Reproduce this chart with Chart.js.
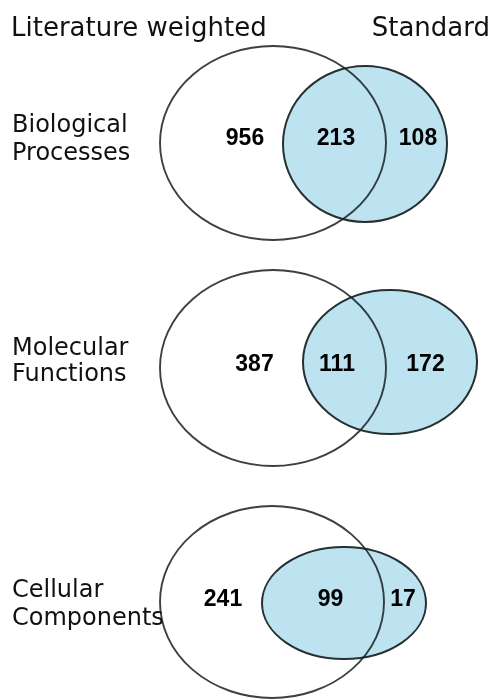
<!DOCTYPE html>
<html>
<head>
<meta charset="utf-8">
<script src="https://cdn.jsdelivr.net/npm/chart.js@4"></script>
<style>
  html, body { margin: 0; padding: 0; background: #fff; }
  canvas { display: block; }
</style>
</head>
<body>
<canvas id="venn" width="491" height="699"></canvas>
<script>
// set names (column headers) and GO categories (row labels)
var seriesNames = ["Literature weighted", "Standard"];
var categories = [["Biological", "Processes"], ["Molecular", "Functions"], ["Cellular", "Components"]];

// counts per region of each venn
var onlyLiterature = [956, 387, 241];
var inBoth = [213, 111, 99];
var onlyStandard = [108, 172, 17];

// layout of each venn in scale units (x 0..491, y 0..699)
var litEllipse = [
	{cx: 273, cy: 143, rx: 113, ry: 97},
	{cx: 273, cy: 368, rx: 113, ry: 98},
	{cx: 272, cy: 602, rx: 112, ry: 96}
];
var stdEllipse = [
	{cx: 365, cy: 144, rx: 82, ry: 78},
	{cx: 390, cy: 362, rx: 87, ry: 72},
	{cx: 344, cy: 603, rx: 82, ry: 56}
];
var countX = [[245, 336, 418], [254.5, 337, 425.5], [223, 330.5, 403]];
var countY = [145, 371, 606];   // baselines
var catY = [[131.5, 160], [355, 381], [596.5, 625]];
var headerY = 36;

var headerFont = "26px 'DejaVu Sans'";
var labelFont = "24px 'DejaVu Sans'";
var countFont = "bold 23px 'Liberation Sans'";

function buildPoints(values, col){
	var pts = [];
	for (var i = 0; i < values.length; i++) {
		pts.push({x: countX[i][col], y: countY[i], v: values[i]});
	};
	return pts;
};

var vennPlugin = {
	id: "venn",
	beforeDatasetsDraw: function(chart){
		var ctx = chart.ctx;
		var xs = chart.scales.x;
		var ys = chart.scales.y;
		function ell(e){
			var cx = xs.getPixelForValue(e.cx);
			var cy = ys.getPixelForValue(e.cy);
			var rx = Math.abs(xs.getPixelForValue(e.cx + e.rx) - cx);
			var ry = Math.abs(ys.getPixelForValue(e.cy + e.ry) - cy);
			ctx.beginPath();
			ctx.ellipse(cx, cy, rx, ry, 0, 0, Math.PI * 2);
		};
		ctx.save();
		for (var i = 0; i < categories.length; i++) {
			// standard set, filled blue
			ell(stdEllipse[i]);
			ctx.fillStyle = "#bde3f0";
			ctx.fill();
			ctx.lineWidth = 2;
			ctx.strokeStyle = "#263032";
			ctx.stroke();
			// literature set, outline only
			ell(litEllipse[i]);
			ctx.lineWidth = 1.9;
			ctx.strokeStyle = "rgba(25,32,34,0.85)";
			ctx.stroke();
			// row labels
			ctx.fillStyle = "#111";
			ctx.font = labelFont;
			ctx.textBaseline = "alphabetic";
			ctx.textAlign = "left";
			for (var k = 0; k < categories[i].length; k++) {
				ctx.fillText(categories[i][k], xs.getPixelForValue(12), ys.getPixelForValue(catY[i][k]));
			};
		};
		// column headers
		ctx.font = headerFont;
		ctx.textAlign = "left";
		ctx.fillText(seriesNames[0], xs.getPixelForValue(11), ys.getPixelForValue(headerY));
		ctx.textAlign = "right";
		ctx.fillText(seriesNames[1], xs.getPixelForValue(490), ys.getPixelForValue(headerY));
		ctx.restore();
	},
	afterDatasetsDraw: function(chart){
		var ctx = chart.ctx;
		ctx.save();
		ctx.font = countFont;
		ctx.fillStyle = "#000";
		ctx.textAlign = "center";
		ctx.textBaseline = "alphabetic";
		chart.data.datasets.forEach(function(ds, d){
			var meta = chart.getDatasetMeta(d);
			meta.data.forEach(function(pt, j){
				ctx.fillText(String(ds.data[j].v), pt.x, pt.y);
			});
		});
		ctx.restore();
	}
};

var ctx = document.getElementById("venn");
var myChart = new Chart(ctx, {
	type: "scatter",
	data: {
		datasets: [
			{label: "only literature", data: buildPoints(onlyLiterature, 0), pointRadius: 0},
			{label: "both", data: buildPoints(inBoth, 1), pointRadius: 0},
			{label: "only standard", data: buildPoints(onlyStandard, 2), pointRadius: 0}
		]
	},
	options: {
		responsive: false,
		animation: false,
		layout: {padding: 0},
		plugins: {legend: {display: false}, tooltip: {enabled: false}},
		scales: {
			x: {type: "linear", min: 0, max: 491, display: false},
			y: {type: "linear", min: 0, max: 699, reverse: true, display: false}
		}
	},
	plugins: [vennPlugin]
});
</script>
</body>
</html>
